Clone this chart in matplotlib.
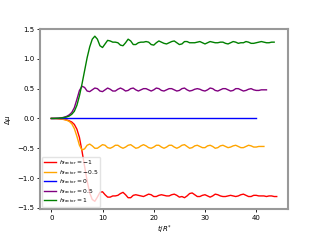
import numpy as np
import matplotlib
matplotlib.use("Agg")
import matplotlib.pyplot as plt

# sample spacing of the simulation output
dt = 0.5

red = [0, 0, -0.002, -0.005, -0.01, -0.015, -0.025, -0.04, -0.06, -0.1,
       -0.18, -0.32, -0.55, -0.8, -1.05, -1.25, -1.36, -1.39, -1.32, -1.24,
       -1.23, -1.28, -1.32, -1.32, -1.30, -1.30, -1.29, -1.26, -1.24, -1.28,
       -1.33, -1.33, -1.29, -1.28, -1.29, -1.30, -1.31, -1.29, -1.27, -1.28,
       -1.31, -1.31, -1.29, -1.28, -1.29, -1.30, -1.30, -1.28, -1.27, -1.29,
       -1.32, -1.31, -1.33, -1.30, -1.26, -1.25, -1.28, -1.31, -1.31, -1.29,
       -1.28, -1.30, -1.32, -1.30, -1.27, -1.28, -1.30, -1.31, -1.31, -1.30,
       -1.29, -1.30, -1.31, -1.30, -1.28, -1.27, -1.29, -1.31, -1.31, -1.29,
       -1.29, -1.30, -1.30, -1.30, -1.31, -1.30, -1.30, -1.31, -1.31]

orange = [0, 0, -0.003, -0.006, -0.01, -0.02, -0.03, -0.05, -0.09, -0.17,
          -0.3, -0.45, -0.53, -0.51, -0.45, -0.43, -0.46, -0.50, -0.50, -0.47,
          -0.44, -0.45, -0.49, -0.50, -0.48, -0.45, -0.45, -0.48, -0.50, -0.48,
          -0.45, -0.44, -0.47, -0.50, -0.49, -0.46, -0.44, -0.46, -0.49, -0.50,
          -0.48, -0.45, -0.45, -0.48, -0.50, -0.48, -0.45, -0.45, -0.48, -0.50,
          -0.48, -0.45, -0.44, -0.47, -0.50, -0.49, -0.46, -0.45, -0.47, -0.49,
          -0.49, -0.46, -0.45, -0.47, -0.50, -0.49, -0.46, -0.45, -0.47, -0.49,
          -0.48, -0.46, -0.45, -0.47, -0.49, -0.49, -0.47, -0.45, -0.46, -0.48,
          -0.48, -0.47, -0.47, -0.47]

blue_t = [0, 10, 20, 30, 40]
blue = [0, 0, 0, 0, 0]

purple = [0, 0, 0.003, 0.006, 0.01, 0.02, 0.035, 0.06, 0.1, 0.18,
          0.32, 0.47, 0.54, 0.52, 0.46, 0.45, 0.48, 0.51, 0.50, 0.46,
          0.45, 0.48, 0.51, 0.49, 0.46, 0.46, 0.49, 0.51, 0.49, 0.46,
          0.47, 0.50, 0.51, 0.48, 0.46, 0.48, 0.50, 0.50, 0.48, 0.46,
          0.48, 0.51, 0.50, 0.47, 0.46, 0.48, 0.50, 0.50, 0.48, 0.46,
          0.47, 0.50, 0.51, 0.48, 0.46, 0.47, 0.49, 0.50, 0.49, 0.47,
          0.46, 0.48, 0.51, 0.50, 0.47, 0.46, 0.48, 0.50, 0.50, 0.48,
          0.46, 0.47, 0.50, 0.50, 0.48, 0.46, 0.47, 0.49, 0.50, 0.48,
          0.47, 0.47, 0.48, 0.48, 0.48]

green = [0, 0, 0.002, 0.005, 0.01, 0.015, 0.025, 0.04, 0.07, 0.12,
         0.22, 0.38, 0.58, 0.8, 1.02, 1.2, 1.33, 1.38, 1.33, 1.22,
         1.19, 1.25, 1.31, 1.30, 1.28, 1.28, 1.27, 1.23, 1.22, 1.27,
         1.33, 1.30, 1.24, 1.24, 1.27, 1.28, 1.28, 1.29, 1.28, 1.24,
         1.23, 1.27, 1.30, 1.28, 1.26, 1.25, 1.27, 1.29, 1.30, 1.27,
         1.24, 1.25, 1.29, 1.29, 1.27, 1.27, 1.27, 1.28, 1.29, 1.27,
         1.25, 1.27, 1.29, 1.28, 1.27, 1.27, 1.28, 1.28, 1.26, 1.25,
         1.27, 1.29, 1.28, 1.26, 1.27, 1.27, 1.29, 1.28, 1.26, 1.26,
         1.27, 1.28, 1.29, 1.28, 1.27, 1.27, 1.28, 1.28]

labels = [r"$h_{\rm factor} = -1$", r"$h_{\rm factor} = -0.5$",
          r"$h_{\rm factor} = 0$", r"$h_{\rm factor} = 0.5$",
          r"$h_{\rm factor} = 1$"]


def times(vals):
    return np.arange(len(vals)) * dt


fig = plt.figure(figsize=(3.2, 2.4), dpi=100)
ax = fig.add_axes([0.125, 0.129, 0.775, 0.75])

ax.plot(times(red), red, color="red", lw=1.0, label=labels[0])
ax.plot(times(orange), orange, color="orange", lw=1.0, label=labels[1])
ax.plot(blue_t, blue, color="blue", lw=1.0, label=labels[2])
ax.plot(times(purple), purple, color="purple", lw=1.0, label=labels[3])
ax.plot(times(green), green, color="green", lw=1.0, label=labels[4])

ax.set_xlim(-2.2, 46.2)
ax.set_ylim(-1.52, 1.5)
ax.set_xticks([0, 10, 20, 30, 40])
ax.set_yticks([-1.5, -1.0, -0.5, 0.0, 0.5, 1.0, 1.5])

ax.set_xlabel(r"$t/R^{*}$", fontsize=5, labelpad=2)
ax.set_ylabel(r"$\Delta\mu$", fontsize=5, labelpad=3)
ax.tick_params(labelsize=5, length=2, width=0.6, pad=2)
for s in ax.spines.values():
    s.set_color("#999999")
    s.set_linewidth(1.5)

ax.legend(loc="lower left", fontsize=4.3, handlelength=2.0, handletextpad=0.5,
          borderpad=0.3, labelspacing=0.1, borderaxespad=0.3,
          framealpha=0.8, edgecolor="#dddddd")

fig.savefig("out.png", dpi=100)
